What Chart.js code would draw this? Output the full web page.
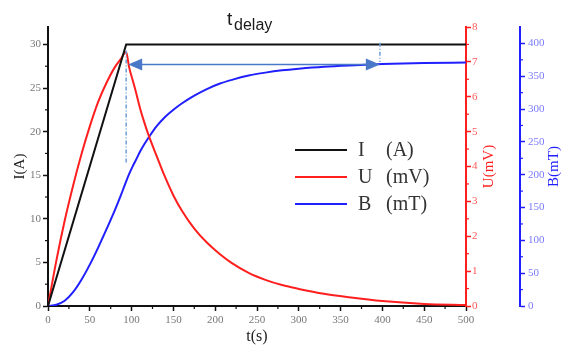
<!DOCTYPE html>
<html>
<head>
<meta charset="utf-8">
<script src="https://cdn.jsdelivr.net/npm/chart.js@4.4.0/dist/chart.umd.min.js"></script>
<style>
  html, body { margin: 0; padding: 0; background: #fff; }
  canvas { display: block; }
</style>
</head>
<body>
<canvas id="chart" width="569" height="347"></canvas>
<script>
// current ramps up to 30 A, then holds
const currentTime = [0, 93.5, 500];
const currentA = [0, 30, 30];

// sample times shared by voltage and field curves (s)
const timeSec = [0, 10, 20, 30, 40, 50, 60, 70, 80, 87, 93.5, 97, 101, 105, 110, 115, 120,
  130, 140, 150, 160, 175, 190, 205, 220, 240, 260, 280, 300, 330, 360, 400, 450, 500];
const voltageMV = [0, 1.3, 2.45, 3.45, 4.35, 5.15, 5.85, 6.4, 6.85, 7.08, 7.28, 6.85, 6.5, 6.15, 5.68, 5.28, 4.92,
  4.3, 3.7, 3.17, 2.74, 2.22, 1.82, 1.5, 1.23, 0.95, 0.75, 0.6, 0.49, 0.35, 0.25, 0.14, 0.06, 0.03];
const fieldMT = [0, 2, 8, 21, 40, 63, 89, 117, 146, 168, 190, 201, 212, 222, 235, 246, 256,
  274, 288, 299, 308.5, 320.5, 330.5, 338.5, 344.5, 351, 355.5, 359, 361.5, 364.5, 366.5, 368.5, 370, 371];

const legendNames = ['I', 'U', 'B'];
const legendUnits = ['(A)', '(mV)', '(mT)'];

// t_delay annotation (time in s, field level in mT, current range for dotted guides)
const delayStart = 93.5;
const delayEnd = 397;
const arrowLevelMT = 368;
const startGuideA = [29.3, 16.3];
const endGuideA = [30.2, 28];

const serif = "'Liberation Serif', 'DejaVu Serif', serif";
const sans = "'Liberation Sans', Arial, sans-serif";
const black = '#111';
const red = '#ff1f1f';
const blue = '#2020ff';

function pts(xs, ys) {
  return xs.map((x, i) => ({ x: x, y: ys[i] }));
}

function minorValues(step, max) {
  const out = [];
  for (let v = step / 2; v < max; v += step) out.push(v);
  return out;
}

const overlay = {
  id: 'overlay',
  afterDraw(chart) {
    const { ctx, chartArea, scales } = chart;
    const x = scales.x, yI = scales.y, yU = scales.yU, yB = scales.yB;
    ctx.save();

    // minor ticks
    ctx.lineWidth = 1.2;
    ctx.strokeStyle = black;
    minorValues(50, 500).forEach(v => {
      const px = x.getPixelForValue(v);
      ctx.beginPath(); ctx.moveTo(px, chartArea.bottom); ctx.lineTo(px, chartArea.bottom + 3); ctx.stroke();
    });
    minorValues(5, 30).forEach(v => {
      const py = yI.getPixelForValue(v);
      ctx.beginPath(); ctx.moveTo(chartArea.left - 3, py); ctx.lineTo(chartArea.left, py); ctx.stroke();
    });
    ctx.strokeStyle = red;
    minorValues(1, 8).forEach(v => {
      const py = yU.getPixelForValue(v);
      ctx.beginPath(); ctx.moveTo(yU.left, py); ctx.lineTo(yU.left + 3, py); ctx.stroke();
    });
    ctx.strokeStyle = blue;
    minorValues(50, 400).forEach(v => {
      const py = yB.getPixelForValue(v);
      ctx.beginPath(); ctx.moveTo(yB.left, py); ctx.lineTo(yB.left + 3, py); ctx.stroke();
    });

    // right axis titles
    const midY = (chartArea.top + chartArea.bottom) / 2;
    ctx.font = '15px ' + serif;
    ctx.textAlign = 'center';
    ctx.textBaseline = 'middle';
    ctx.fillStyle = red;
    ctx.save(); ctx.translate(yU.left + 23, midY); ctx.rotate(-Math.PI / 2); ctx.fillText('U(mV)', 0, 0); ctx.restore();
    ctx.fillStyle = blue;
    ctx.save(); ctx.translate(yB.left + 34, midY); ctx.rotate(-Math.PI / 2); ctx.fillText('B(mT)', 0, 0); ctx.restore();

    // dotted guides
    ctx.strokeStyle = '#6f9fd8';
    ctx.lineWidth = 1.5;
    ctx.setLineDash([4, 2, 1, 2]);
    let gx = x.getPixelForValue(delayStart);
    ctx.beginPath(); ctx.moveTo(gx, yI.getPixelForValue(startGuideA[0])); ctx.lineTo(gx, yI.getPixelForValue(startGuideA[1])); ctx.stroke();
    gx = x.getPixelForValue(delayEnd);
    ctx.beginPath(); ctx.moveTo(gx, yI.getPixelForValue(endGuideA[0])); ctx.lineTo(gx, yI.getPixelForValue(endGuideA[1])); ctx.stroke();
    ctx.setLineDash([]);

    // double arrow
    const ax0 = x.getPixelForValue(delayStart) + 2;
    const ax1 = x.getPixelForValue(delayEnd);
    const ay = yB.getPixelForValue(arrowLevelMT);
    ctx.strokeStyle = '#4a78c8';
    ctx.fillStyle = '#4a78c8';
    ctx.lineWidth = 1.5;
    ctx.beginPath(); ctx.moveTo(ax0 + 10, ay); ctx.lineTo(ax1 - 10, ay); ctx.stroke();
    ctx.beginPath(); ctx.moveTo(ax0, ay); ctx.lineTo(ax0 + 14, ay - 6); ctx.lineTo(ax0 + 14, ay + 6); ctx.closePath(); ctx.fill();
    ctx.beginPath(); ctx.moveTo(ax1, ay); ctx.lineTo(ax1 - 14, ay - 6); ctx.lineTo(ax1 - 14, ay + 6); ctx.closePath(); ctx.fill();

    // t_delay label
    const lx = (ax0 + ax1) / 2 - 27;
    ctx.fillStyle = '#1a1a1a';
    ctx.textAlign = 'left';
    ctx.textBaseline = 'alphabetic';
    ctx.font = '19px ' + sans;
    ctx.fillText('t', lx, 25);
    ctx.font = '16px ' + sans;
    ctx.fillText('delay', lx + 7, 30);

    // legend
    const colors = [black, red, blue];
    const lx0 = 295, ly0 = 150, gap = 27;
    ctx.lineWidth = 2;
    ctx.textBaseline = 'middle';
    ctx.font = '20px ' + serif;
    ctx.fillStyle = '#333';
    legendNames.forEach((name, i) => {
      const ly = ly0 + i * gap;
      ctx.strokeStyle = colors[i];
      ctx.beginPath(); ctx.moveTo(lx0, ly); ctx.lineTo(lx0 + 52, ly); ctx.stroke();
      ctx.fillText(name, lx0 + 63, ly + 1);
      ctx.fillText(legendUnits[i], lx0 + 91, ly + 1);
    });

    ctx.restore();
  }
};

const tickFont = { family: serif, size: 11 };

new Chart(document.getElementById('chart'), {
  type: 'line',
  data: {
    datasets: [
      { label: 'I (A)', data: pts(currentTime, currentA), yAxisID: 'y', borderColor: black, borderWidth: 2, pointRadius: 0, tension: 0 },
      { label: 'U (mV)', data: pts(timeSec, voltageMV), yAxisID: 'yU', borderColor: red, borderWidth: 2, pointRadius: 0, cubicInterpolationMode: 'monotone' },
      { label: 'B (mT)', data: pts(timeSec, fieldMT), yAxisID: 'yB', borderColor: blue, borderWidth: 2, pointRadius: 0, cubicInterpolationMode: 'monotone' }
    ]
  },
  options: {
    responsive: false,
    animation: false,
    layout: { padding: { top: 27, left: 0, right: 0, bottom: 0 } },
    plugins: { legend: { display: false }, tooltip: { enabled: false } },
    scales: {
      x: {
        type: 'linear', position: 'bottom', min: 0, max: 500,
        ticks: { stepSize: 50, color: '#777', font: tickFont, padding: 3, maxRotation: 0 },
        grid: { display: true, drawOnChartArea: false, tickLength: 5, color: black, tickWidth: 1.5 },
        border: { color: black, width: 2 },
        title: { display: true, text: 't(s)', color: '#222', font: { family: serif, size: 16 }, padding: { top: 0, bottom: 1 } },
        afterFit(s) { s.height = 41; }
      },
      y: {
        position: 'left', min: 0, max: 32,
        ticks: { stepSize: 5, includeBounds: false, color: '#777', font: tickFont, padding: 2 },
        grid: { display: true, drawOnChartArea: false, tickLength: 5, color: black, tickWidth: 1.5 },
        border: { color: black, width: 2 },
        title: { display: true, text: 'I(A)', color: '#222', font: { family: serif, size: 15 }, padding: { top: 11, bottom: 0 } },
        afterFit(s) { s.width = 48; }
      },
      yU: {
        position: 'right', weight: 1, min: 0, max: 8,
        ticks: { stepSize: 1, color: '#ff5a5a', font: tickFont, padding: 1 },
        grid: { display: true, drawOnChartArea: false, tickLength: 5, color: red, tickWidth: 1.5 },
        border: { color: red, width: 2 },
        afterFit(s) { s.width = 54; }
      },
      yB: {
        position: 'right', weight: 2, min: 0, max: 425,
        ticks: { stepSize: 50, includeBounds: false, color: '#7a7aff', font: tickFont, padding: 3 },
        grid: { display: true, drawOnChartArea: false, tickLength: 5, color: blue, tickWidth: 1.5 },
        border: { color: blue, width: 2 },
        afterFit(s) { s.width = 49; }
      }
    }
  },
  plugins: [overlay]
});
</script>
</body>
</html>
